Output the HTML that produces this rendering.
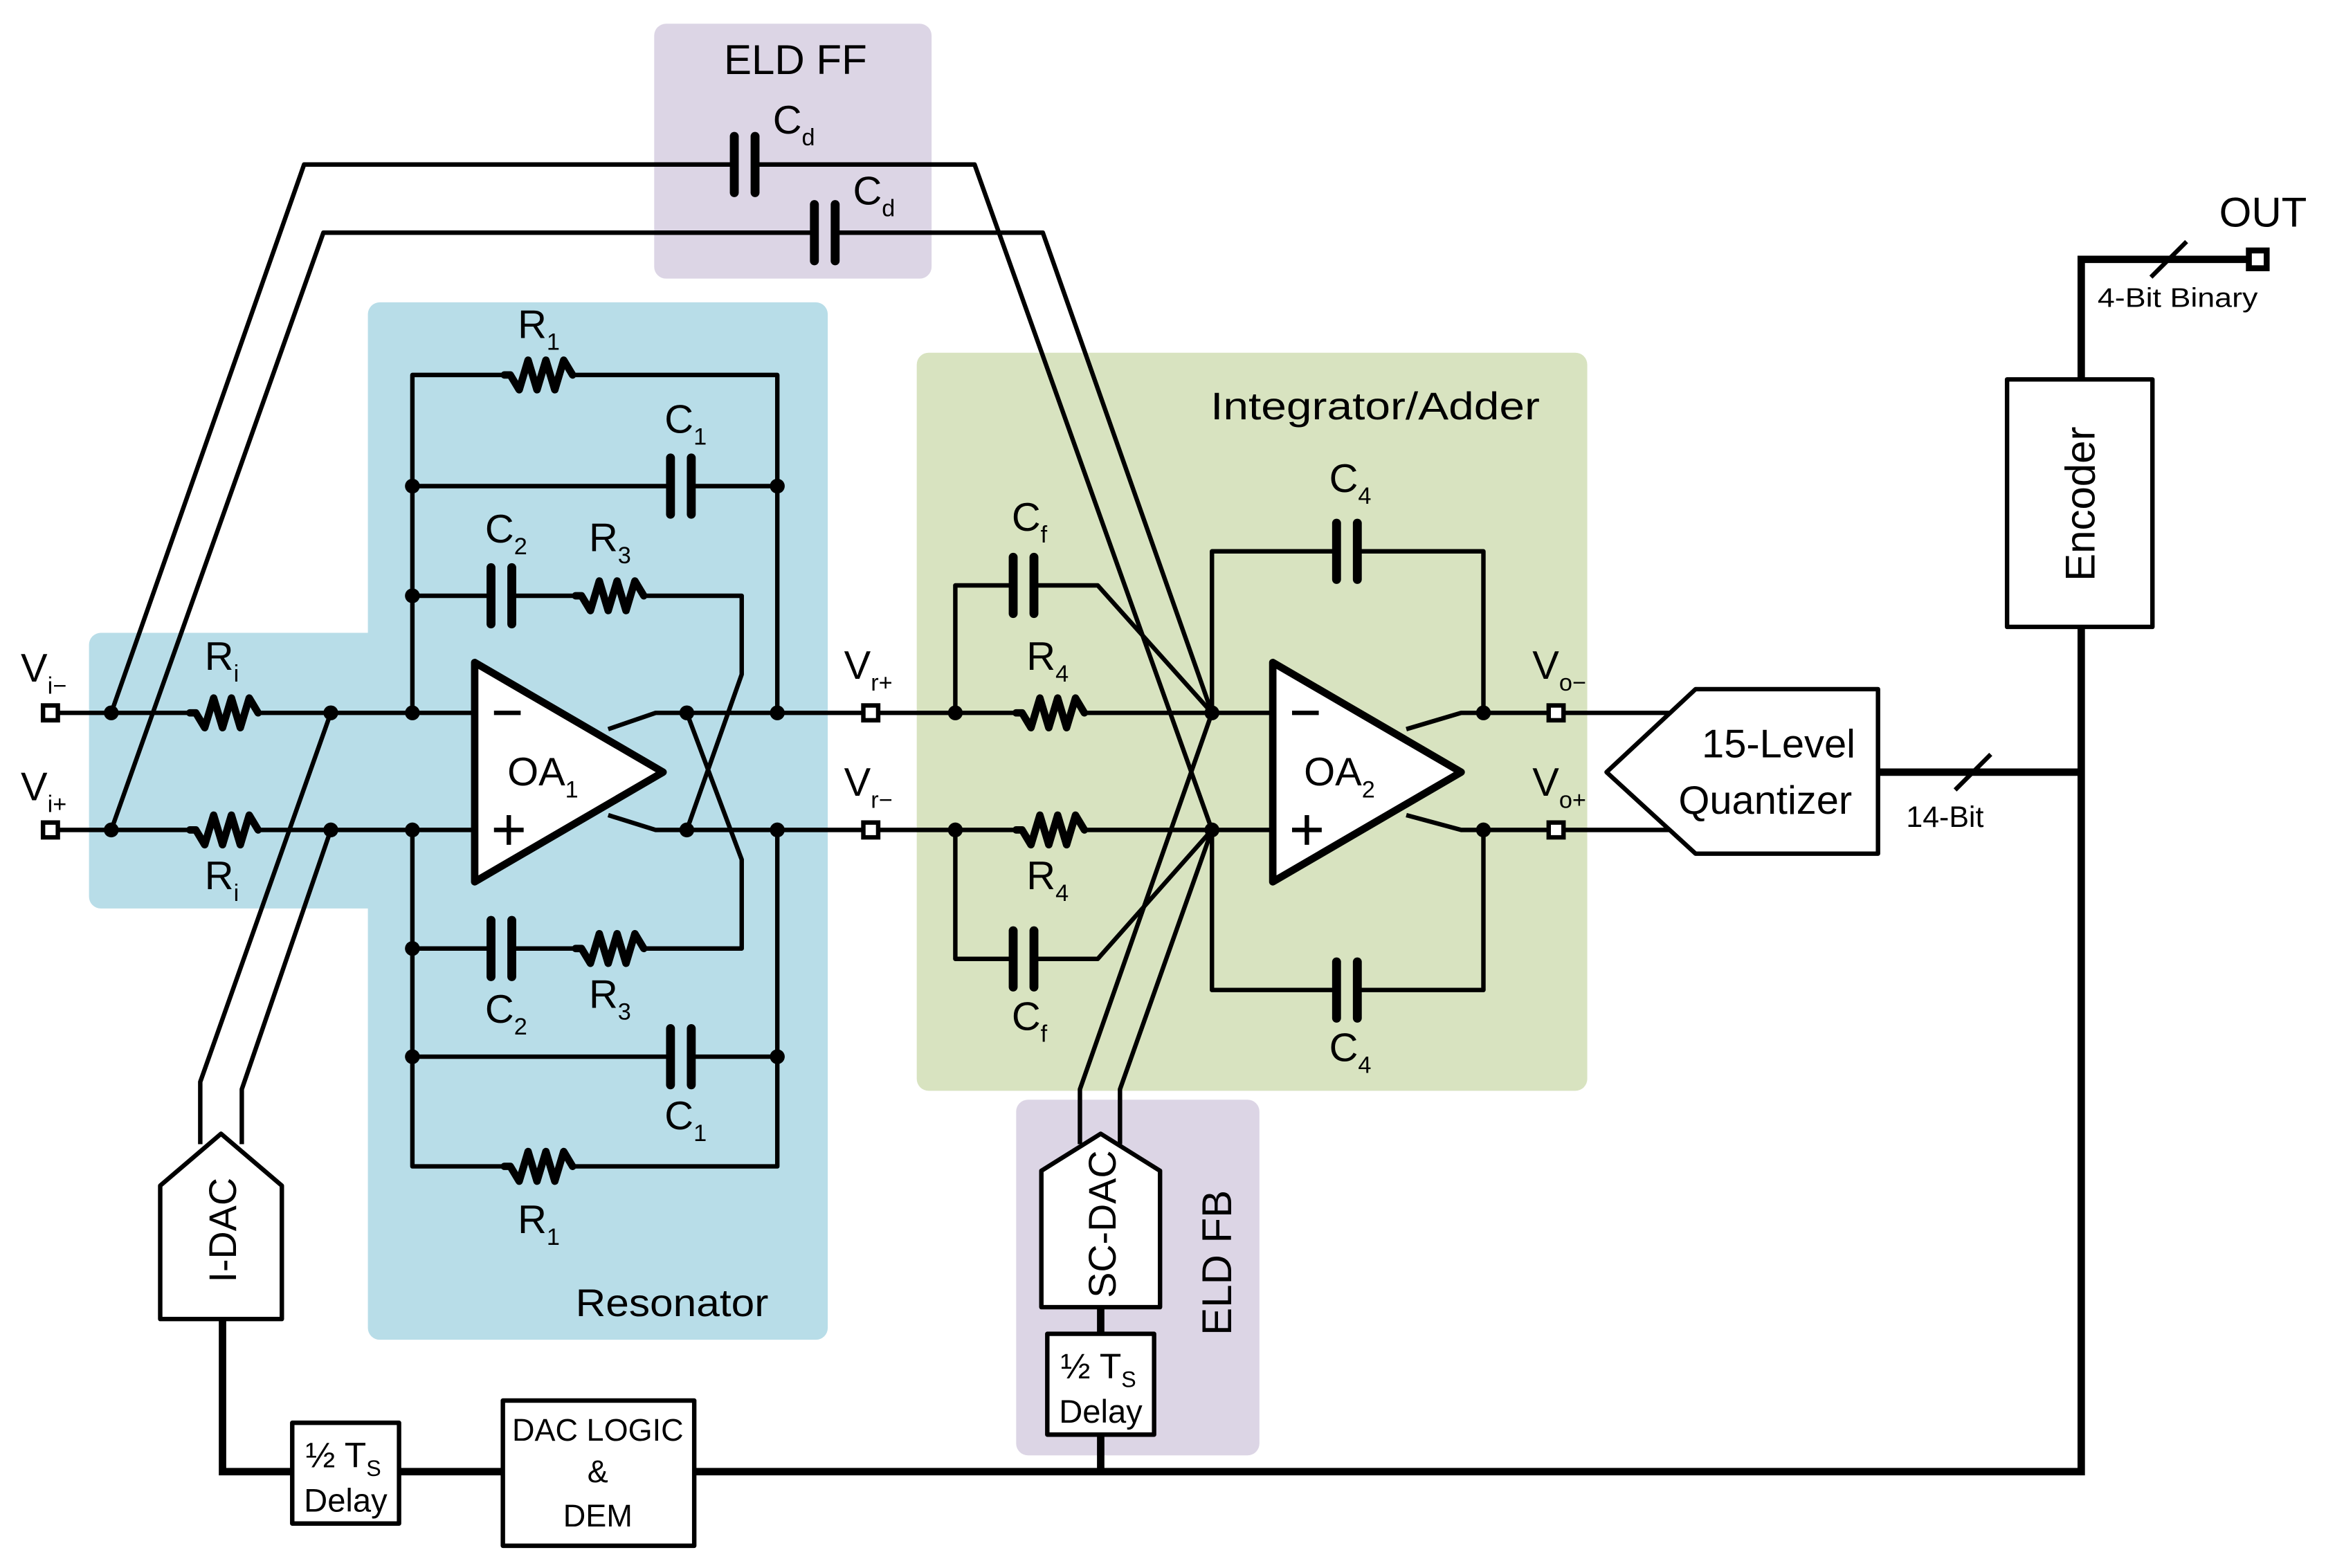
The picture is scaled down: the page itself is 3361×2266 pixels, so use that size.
<!DOCTYPE html>
<html><head><meta charset="utf-8"><style>
html,body{margin:0;padding:0;background:#fff}
svg{display:block}
text{font-family:"Liberation Sans",sans-serif;fill:#000}
</style></head><body>
<svg width="3361" height="2266" viewBox="0 0 1568 1058" preserveAspectRatio="none" xmlns="http://www.w3.org/2000/svg">
<defs>
<path id="res" d="M0,0 L4,0 L10,10 L16,-10 L22,10 L28,-10 L34,10 L40,-10 L46,0" fill="none" stroke="#000" stroke-width="5" stroke-linejoin="round" stroke-linecap="round"/>
<g id="cap"><line x1="-7" y1="-19" x2="-7" y2="19" stroke="#000" stroke-width="6" stroke-linecap="round"/><line x1="7" y1="-19" x2="7" y2="19" stroke="#000" stroke-width="6" stroke-linecap="round"/></g>
</defs>
<rect x="441" y="16" width="187" height="172" rx="8" fill="#dcd5e5"/>
<rect x="685" y="742" width="164" height="240" rx="8" fill="#dcd5e5"/>
<rect x="248" y="204" width="310" height="700" rx="8" fill="#b8dde8"/>
<rect x="60" y="427" width="200" height="186" rx="8" fill="#b8dde8"/>
<rect x="618" y="238" width="452" height="498" rx="8" fill="#d8e3c0"/>

<g fill="none" stroke="#000" stroke-width="3" stroke-linejoin="round">
<path d="M39,481 H128 M174,481 H320 M39,560 H128 M174,560 H320"/>
<path d="M75,481 L205,111 H495 M510,111 H657 L817,560"/>
<path d="M75,560 L218,157 H549 M563,157 H703 L817,481"/>
<path d="M223,481 L135,730 V772 M223,560 L163,735 V772"/>
<path d="M278,481 V253 H340 M386,253 H524 V481"/>
<path d="M278,328 H452 M466,328 H524"/>
<path d="M278,402 H331 M345,402 H388 M434,402 H500 V455 L463,560"/>
<path d="M278,560 V787 H340 M386,787 H524 V560"/>
<path d="M278,713 H452 M466,713 H524"/>
<path d="M278,640 H331 M345,640 H388 M434,640 H500 V580 L463,481"/>
<path d="M410,492 L442,481 H582 M410,550 L442,560 H582"/>
<path d="M592,481 H685 M731,481 H858 M592,560 H685 M731,560 H858"/>
<path d="M644,481 V395 H683 M697,395 H740 L817,481"/>
<path d="M644,560 V647 H683 M697,647 H740 L817,560"/>
<path d="M817,481 V372 H901 M915,372 H1000 V481"/>
<path d="M817,560 V668 H901 M915,668 H1000 V560"/>
<path d="M948,492 L985,481 H1044 M948,550 L985,560 H1044"/>
<path d="M1054,481 H1126 M1054,560 H1126"/>
<path d="M728,772 V735 L817,481 M755,772 V735 L817,560"/>
</g>
<g fill="none" stroke="#000" stroke-width="5">
<path d="M150,890 V993 H1403 V175 H1516"/>
<path d="M1266,521 H1403"/>
<path d="M742,882 V993"/>
<path d="M1318,533 L1342,509 M1450,187 L1474,163" stroke-width="3"/>
</g>
<use href="#res" x="128" y="481"/><use href="#res" x="128" y="560"/>
<use href="#res" x="340" y="253"/><use href="#res" x="340" y="787"/>
<use href="#res" x="388" y="402"/><use href="#res" x="388" y="640"/>
<use href="#res" x="685" y="481"/><use href="#res" x="685" y="560"/>
<use href="#cap" x="502" y="111"/><use href="#cap" x="556" y="157"/>
<use href="#cap" x="459" y="328"/><use href="#cap" x="459" y="713"/>
<use href="#cap" x="338" y="402"/><use href="#cap" x="338" y="640"/>
<use href="#cap" x="690" y="395"/><use href="#cap" x="690" y="647"/>
<use href="#cap" x="908" y="372"/><use href="#cap" x="908" y="668"/>
<g fill="#000">
<circle cx="75" cy="481" r="5"/><circle cx="223" cy="481" r="5"/><circle cx="278" cy="481" r="5"/>
<circle cx="75" cy="560" r="5"/><circle cx="223" cy="560" r="5"/><circle cx="278" cy="560" r="5"/>
<circle cx="278" cy="328" r="5"/><circle cx="524" cy="328" r="5"/><circle cx="278" cy="402" r="5"/>
<circle cx="278" cy="640" r="5"/><circle cx="278" cy="713" r="5"/><circle cx="524" cy="713" r="5"/>
<circle cx="463" cy="481" r="5"/><circle cx="524" cy="481" r="5"/><circle cx="463" cy="560" r="5"/><circle cx="524" cy="560" r="5"/>
<circle cx="644" cy="481" r="5"/><circle cx="644" cy="560" r="5"/><circle cx="817" cy="481" r="5"/><circle cx="817" cy="560" r="5"/>
<circle cx="1000" cy="481" r="5"/><circle cx="1000" cy="560" r="5"/>
</g>
<g fill="#fff" stroke="#000" stroke-width="3">
<rect x="29" y="476" width="10" height="10"/><rect x="29" y="555" width="10" height="10"/>
<rect x="582" y="476" width="10" height="10"/><rect x="582" y="555" width="10" height="10"/>
<rect x="1044" y="476" width="10" height="10"/><rect x="1044" y="555" width="10" height="10"/>
<rect x="1516" y="169" width="12" height="12" stroke-width="4"/>
</g>
<polygon points="320,447 320,595 447,521" fill="#fff" stroke="#000" stroke-width="5" stroke-linejoin="round"/>
<polygon points="858,447 858,595 985,521" fill="#fff" stroke="#000" stroke-width="5" stroke-linejoin="round"/>
<g stroke="#000" stroke-width="3"><path d="M333,481 H351 M333,560 H353 M343,550 V570 M871,481 H889 M871,560 H891 M881,550 V570"/></g>
<text x="342" y="530" font-size="27">OA<tspan font-size="16" dy="8">1</tspan></text>
<text x="879" y="530" font-size="27">OA<tspan font-size="16" dy="8">2</tspan></text>
<g fill="#fff" stroke="#000" stroke-width="3" stroke-linejoin="round">
<polygon points="1083,521 1143,465 1266,465 1266,576 1143,576"/>
<rect x="1353" y="256" width="98" height="167"/>
<polygon points="108,890 108,800 149,765 190,800 190,890"/>
<polygon points="702,882 702,790 742,765 782,790 782,882"/>
<rect x="197" y="960" width="72" height="68"/>
<rect x="339" y="945" width="129" height="98"/>
<rect x="706" y="900" width="72" height="68"/>
</g>
<text x="1199" y="511" font-size="27" text-anchor="middle">15-Level</text>
<text x="1190" y="549" font-size="27" text-anchor="middle">Quantizer</text>
<text transform="translate(1412,340) rotate(-90)" font-size="28" text-anchor="middle">Encoder</text>
<text transform="translate(159,830) rotate(-90)" font-size="26" text-anchor="middle">I-DAC</text>
<text transform="translate(752,826) rotate(-90)" font-size="26" text-anchor="middle">SC-DAC</text>
<text transform="translate(830,852) rotate(-90)" font-size="28" text-anchor="middle">ELD FB</text>
<text x="403" y="972" font-size="21" text-anchor="middle">DAC LOGIC</text>
<text x="403" y="1000" font-size="21" text-anchor="middle">&amp;</text>
<text x="403" y="1030" font-size="21" text-anchor="middle">DEM</text>
<text x="206" y="990" font-size="24">½ T<tspan font-size="15" dy="6">S</tspan></text>
<text x="233" y="1020" font-size="22" text-anchor="middle">Delay</text>
<text x="715" y="930" font-size="24">½ T<tspan font-size="15" dy="6">S</tspan></text>
<text x="742" y="960" font-size="22" text-anchor="middle">Delay</text>
<text x="488" y="50" font-size="28">ELD FF</text>
<text x="816" y="283" font-size="26" textLength="222" lengthAdjust="spacingAndGlyphs">Integrator/Adder</text>
<text x="388" y="888" font-size="26" textLength="130" lengthAdjust="spacingAndGlyphs">Resonator</text>
<text x="1496" y="153" font-size="28">OUT</text>
<text x="1414" y="207" font-size="18" textLength="108" lengthAdjust="spacingAndGlyphs">4-Bit Binary</text>
<text x="1285" y="558" font-size="20">14-Bit</text>
<g font-size="27">
<text x="14" y="460">V<tspan font-size="16" dy="8">i−</tspan></text>
<text x="14" y="540">V<tspan font-size="16" dy="8">i+</tspan></text>
<text x="569" y="458">V<tspan font-size="16" dy="8">r+</tspan></text>
<text x="569" y="537">V<tspan font-size="16" dy="8">r−</tspan></text>
<text x="1033" y="458">V<tspan font-size="16" dy="8">o−</tspan></text>
<text x="1033" y="537">V<tspan font-size="16" dy="8">o+</tspan></text>
<text x="138" y="452">R<tspan font-size="16" dy="8">i</tspan></text>
<text x="138" y="600">R<tspan font-size="16" dy="8">i</tspan></text>
<text x="521" y="90">C<tspan font-size="16" dy="8">d</tspan></text>
<text x="575" y="138">C<tspan font-size="16" dy="8">d</tspan></text>
<text x="349" y="228">R<tspan font-size="16" dy="8">1</tspan></text>
<text x="448" y="292">C<tspan font-size="16" dy="8">1</tspan></text>
<text x="327" y="366">C<tspan font-size="16" dy="8">2</tspan></text>
<text x="397" y="372">R<tspan font-size="16" dy="8">3</tspan></text>
<text x="327" y="690">C<tspan font-size="16" dy="8">2</tspan></text>
<text x="397" y="680">R<tspan font-size="16" dy="8">3</tspan></text>
<text x="448" y="762">C<tspan font-size="16" dy="8">1</tspan></text>
<text x="349" y="832">R<tspan font-size="16" dy="8">1</tspan></text>
<text x="682" y="358">C<tspan font-size="16" dy="8">f</tspan></text>
<text x="682" y="695">C<tspan font-size="16" dy="8">f</tspan></text>
<text x="692" y="452">R<tspan font-size="16" dy="8">4</tspan></text>
<text x="692" y="600">R<tspan font-size="16" dy="8">4</tspan></text>
<text x="896" y="332">C<tspan font-size="16" dy="8">4</tspan></text>
<text x="896" y="716">C<tspan font-size="16" dy="8">4</tspan></text>
</g>
</svg>
</body></html>
